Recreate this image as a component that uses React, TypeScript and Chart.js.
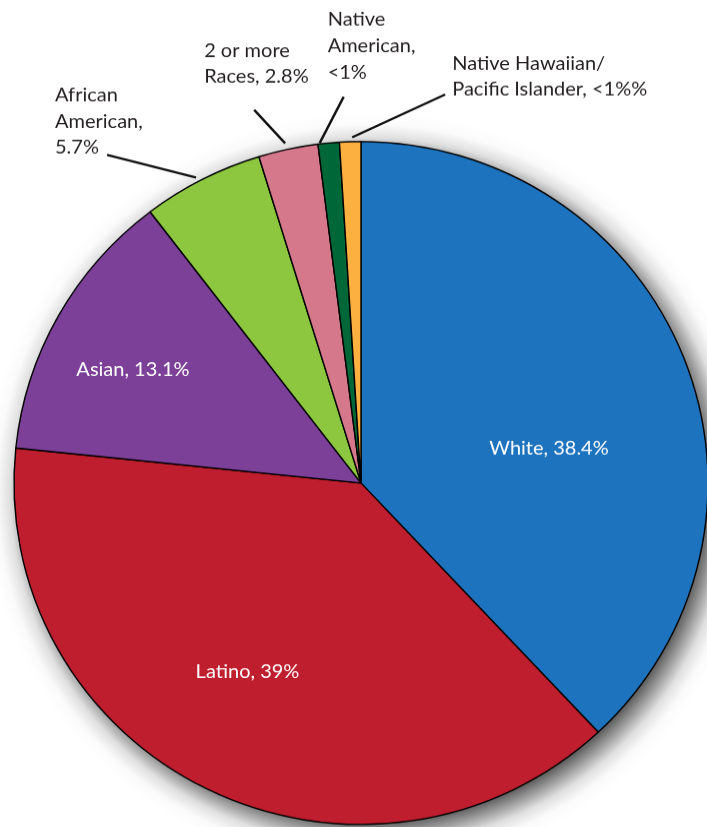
import React, { useEffect, useRef } from "react";
import { Chart, registerables } from "chart.js";

Chart.register(...registerables);

// ---- data ----
const categories = [
  "White",
  "Latino",
  "Asian",
  "African American",
  "2 or more Races",
  "Native American",
  "Native Hawaiian/Pacific Islander",
];
const shares = [38.4, 39, 13.1, 5.7, 2.8, 1, 1];
const sliceLabels: string[][] = [
  ["White, 38.4%"],
  ["Latino, 39%"],
  ["Asian, 13.1%"],
  ["African", "American,", "5.7%"],
  ["2 or more", "Races, 2.8%"],
  ["Native", "American,", "<1%"],
  ["Native Hawaiian/", "Pacific Islander, <1%%"],
];
const sliceColors = ["#1e73be", "#be1e2d", "#7d4098", "#8dc63f", "#d6788c", "#006838", "#fbb040"];

// ---- label placement (style) ----
const FONT = '20px Lato, "Open Sans", sans-serif';
const insidePlacement: Record<number, { dx: number; dy: number }> = {
  0: { dx: 188, dy: -29 },
  1: { dx: -113.5, dy: 198 },
  2: { dx: -228, dy: -109 },
};
const outsidePlacement: Record<
  number,
  { start: [number, number]; end: [number, number]; text: [number, number]; lh: number }
> = {
  3: { start: [-6, -2], end: [-95, -25], text: [-147, -79], lh: 26.4 },
  4: { start: [-3, -6], end: [-34, -40], text: [-84, -94], lh: 26.8 },
  5: { start: [-9, 0], end: [15, -47], text: [-1, -119], lh: 26.8 },
  6: { start: [2, -4.5], end: [95, -48], text: [102, -73], lh: 26.4 },
};

const CANVAS_W = 720;
const CANVAS_H = 850;
const SCALE_Y = 0.984;
const RADIUS = 347;
const CENTER_X = 361;
const CENTER_Y = 483 / SCALE_Y;

// soft drop shadow (gaussian-like falloff) drawn under the pie
const SHADOW_OFFSET = 9;
const SHADOW_SIGMA = 13;
const SHADOW_ALPHA = 0.78;
const PHI = [0.0013, 0.0228, 0.1587, 0.5, 0.8413, 0.9772, 0.9987];

const shadowPlugin = {
  id: "pieShadow",
  beforeDatasetsDraw(chart: any) {
    const arc = chart.getDatasetMeta(0).data[0] as any;
    if (!arc) return;
    const ctx = chart.ctx as CanvasRenderingContext2D;
    const r = arc.outerRadius;
    const sx = arc.x + SHADOW_OFFSET;
    const sy = arc.y + SHADOW_OFFSET;
    const outer = r + 3.5 * SHADOW_SIGMA;
    const g = ctx.createRadialGradient(sx, sy, 0, sx, sy, outer);
    g.addColorStop(0, `rgba(0,0,0,${SHADOW_ALPHA})`);
    for (let k = -3; k <= 3; k++) {
      const rho = r + k * SHADOW_SIGMA;
      const a = SHADOW_ALPHA * (1 - PHI[k + 3]);
      g.addColorStop(Math.min(1, rho / outer), `rgba(0,0,0,${a.toFixed(4)})`);
    }
    g.addColorStop(1, "rgba(0,0,0,0)");
    ctx.save();
    ctx.fillStyle = g;
    ctx.beginPath();
    ctx.arc(sx, sy, outer, 0, Math.PI * 2);
    ctx.fill();
    ctx.restore();
  },
};

const labelPlugin = {
  id: "sliceLabels",
  afterDatasetsDraw(chart: any) {
    const meta = chart.getDatasetMeta(0);
    const ctx = chart.ctx as CanvasRenderingContext2D;
    ctx.save();
    ctx.font = FONT;
    ctx.textBaseline = "alphabetic";
    meta.data.forEach((el: any, i: number) => {
      const lines = sliceLabels[i];
      const cx = el.x;
      const cy = el.y;
      if (insidePlacement[i]) {
        const p = insidePlacement[i];
        ctx.fillStyle = "#ffffff";
        ctx.textAlign = "center";
        ctx.fillText(lines[0], cx + p.dx, cy + p.dy);
        return;
      }
      const p = outsidePlacement[i];
      if (!p) return;
      const mid = (el.startAngle + el.endAngle) / 2;
      const ex = cx + Math.cos(mid) * el.outerRadius;
      const ey = cy + Math.sin(mid) * el.outerRadius;
      ctx.strokeStyle = "#111111";
      ctx.lineWidth = 2.4;
      ctx.beginPath();
      ctx.moveTo(ex + p.start[0], ey + p.start[1]);
      ctx.lineTo(ex + p.end[0], ey + p.end[1]);
      ctx.stroke();
      ctx.fillStyle = "#231f20";
      ctx.textAlign = "left";
      lines.forEach((ln, k) => {
        ctx.fillText(ln, ex + p.text[0], ey + p.text[1] + k * p.lh);
      });
    });
    ctx.restore();
  },
};

export default function App() {
  const ref = useRef<HTMLCanvasElement | null>(null);

  useEffect(() => {
    if (!ref.current) return;
    const chart = new Chart(ref.current, {
      type: "pie",
      data: {
        labels: categories,
        datasets: [
          {
            data: shares,
            backgroundColor: sliceColors,
            borderColor: "#000000",
            borderWidth: 1.4,
            radius: RADIUS,
          } as any,
        ],
      },
      options: {
        responsive: false,
        animation: false,
        layout: {
          padding: {
            left: CENTER_X - RADIUS,
            right: CANVAS_W - (CENTER_X + RADIUS),
            top: CENTER_Y - RADIUS,
            bottom: CANVAS_H - (CENTER_Y + RADIUS),
          },
        },
        plugins: {
          legend: { display: false },
          tooltip: { enabled: false },
        },
      },
      plugins: [shadowPlugin, labelPlugin],
    });
    return () => chart.destroy();
  }, []);

  return (
    <div
      style={{
        position: "fixed",
        left: 0,
        top: 0,
        width: 707,
        height: 827,
        overflow: "hidden",
        background: "#ffffff",
      }}
    >
      <div
        style={{
          width: CANVAS_W,
          height: CANVAS_H,
          transform: `scaleY(${SCALE_Y})`,
          transformOrigin: "0 0",
        }}
      >
        <canvas
          ref={ref}
          width={CANVAS_W}
          height={CANVAS_H}
          style={{ width: CANVAS_W, height: CANVAS_H, display: "block" }}
        />
      </div>
    </div>
  );
}
